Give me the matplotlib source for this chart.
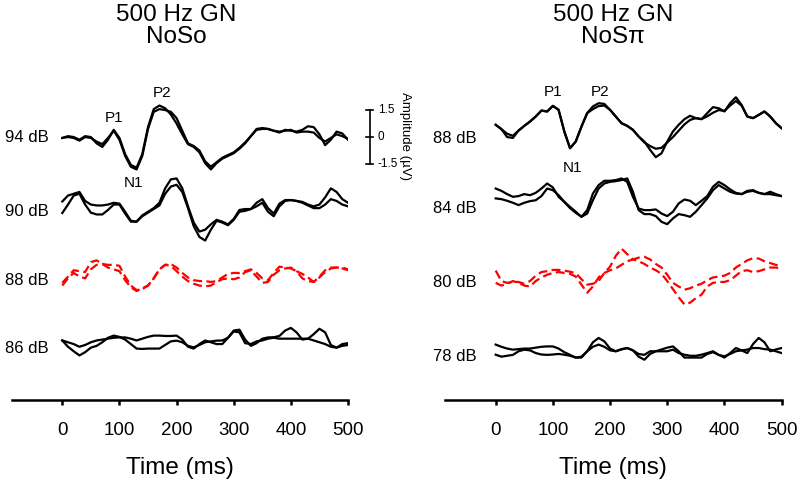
import matplotlib
matplotlib.use("Agg")
import matplotlib.pyplot as plt
import numpy as np

plt.rcParams['font.family'] = ['Liberation Sans', 'DejaVu Sans']

# time axis of the averaged waveforms (ms)
t_ms = np.arange(0, 501, 10)

# NoSo panel, amplitude in uV relative to each trace's baseline
noso_levels = ["94 dB", "90 dB", "88 dB", "86 dB"]
noso_offsets = [0.0, -4.1, -7.9, -11.7]
noso_94_a = [0, 0.1, 0.05, -0.1, 0.1, 0.05, -0.3, -0.5, -0.1, 0.45, 0.0, -0.9, -1.5, -1.65, -0.9, 0.6,
             1.6, 1.8, 1.65, 1.3, 0.8, 0.2, -0.35, -0.5, -0.8, -1.4, -1.75, -1.4, -1.15, -1.0, -0.85,
             -0.6, -0.3, 0.1, 0.5, 0.55, 0.5, 0.4, 0.3, 0.45, 0.4, 0.35, 0.45, 0.65, 0.6, 0.2, -0.4,
             -0.1, 0.35, 0.25, -0.1]
noso_94_b = [0, 0.05, 0.0, -0.15, 0.05, 0.0, -0.2, -0.35, 0.0, 0.4, -0.1, -1.0, -1.6, -1.75, -1.0, 0.5,
             1.45, 1.6, 1.55, 1.45, 1.1, 0.4, -0.3, -0.45, -0.7, -1.3, -1.6, -1.35, -1.1, -0.95, -0.8,
             -0.55, -0.25, 0.1, 0.45, 0.5, 0.5, 0.4, 0.35, 0.4, 0.45, 0.3, 0.35, 0.35, 0.3, 0.0, -0.2,
             0.0, 0.2, 0.1, -0.05]
noso_90_a = [0.57, 0.9, 1.0, 1.1, 0.6, 0.4, 0.35, 0.35, 0.4, 0.5, 0.45, 0.0, -0.5, -0.55, -0.2, 0.0,
             0.2, 0.5, 1.3, 1.8, 1.85, 1.3, 0.3, -0.6, -1.1, -1.0, -0.7, -0.45, -0.55, -0.7, -0.4,
             0.1, 0.15, 0.15, 0.5, 0.7, 0.2, -0.1, 0.45, 0.65, 0.65, 0.6, 0.55, 0.4, 0.3, 0.4, 0.8,
             1.3, 1.1, 0.7, 0.5]
noso_90_b = [-0.07, 0.4, 0.9, 1.0, 0.4, -0.05, -0.15, -0.15, 0.1, 0.4, 0.4, -0.1, -0.55, -0.55, -0.25,
             -0.05, 0.15, 0.35, 1.0, 1.4, 1.5, 1.1, 0.2, -0.8, -1.4, -1.6, -1.0, -0.5, -0.6, -0.75,
             -0.45, 0.0, 0.05, 0.15, 0.3, 0.5, 0.0, -0.25, 0.3, 0.6, 0.65, 0.6, 0.5, 0.35, 0.2, 0.2,
             0.4, 0.7, 0.6, 0.4, 0.3]
noso_88_a = [-0.15, 0.2, 0.55, 0.5, 0.45, 1.0, 1.1, 0.9, 0.85, 0.85, 0.8, 0.2, -0.3, -0.55, -0.5, -0.3,
             0.1, 0.6, 0.85, 0.9, 0.7, 0.4, 0.15, 0.0, -0.05, -0.05, -0.1, -0.05, 0.15, 0.35, 0.4,
             0.4, 0.5, 0.6, 0.4, 0.1, 0.0, 0.4, 0.75, 0.7, 0.65, 0.5, 0.1, -0.05, -0.1, 0.2, 0.55,
             0.7, 0.7, 0.7, 0.6]
noso_88_b = [-0.3, 0.1, 0.4, 0.2, 0.1, 0.6, 0.85, 0.9, 0.7, 0.6, 0.5, 0.0, -0.4, -0.6, -0.45, -0.3,
             0.1, 0.6, 0.85, 0.8, 0.5, 0.2, -0.05, -0.2, -0.3, -0.35, -0.3, -0.1, 0.05, 0.1, 0.05,
             0.15, 0.45, 0.55, 0.2, -0.15, -0.1, 0.3, 0.55, 0.65, 0.7, 0.5, 0.35, 0.15, -0.1, 0.15,
             0.45, 0.65, 0.7, 0.65, 0.55]
noso_86_a = [0.45, 0.1, -0.15, -0.38, -0.2, 0.05, 0.15, 0.35, 0.6, 0.72, 0.65, 0.5, 0.25, 0.0, -0.02,
             0.0, 0.0, 0.0, 0.2, 0.4, 0.44, 0.35, 0.15, 0.07, 0.2, 0.35, 0.4, 0.44, 0.45, 0.6, 1.0,
             1.05, 0.5, 0.15, 0.3, 0.55, 0.62, 0.63, 0.7, 1.0, 1.15, 0.9, 0.5, 0.55, 0.8, 1.1, 0.9,
             0.2, 0.05, 0.25, 0.3]
noso_86_b = [0.45, 0.35, 0.25, 0.1, 0.2, 0.35, 0.45, 0.5, 0.55, 0.6, 0.62, 0.62, 0.55, 0.45, 0.55,
             0.65, 0.72, 0.72, 0.7, 0.7, 0.72, 0.5, 0.1, 0.0, 0.25, 0.45, 0.35, 0.25, 0.25, 0.6,
             0.95, 0.9, 0.3, 0.25, 0.4, 0.45, 0.55, 0.6, 0.55, 0.55, 0.55, 0.55, 0.55, 0.55, 0.45,
             0.35, 0.25, 0.1, 0.05, 0.15, 0.2]

# NoSpi panel
nospi_levels = ["88 dB", "84 dB", "80 dB", "78 dB"]
nospi_offsets = [-0.05, -3.9, -8.05, -12.15]
nospi_88_a = [0.78, 0.54, 0.28, 0.17, 0.46, 0.72, 0.96, 1.24, 1.57, 1.52, 1.83, 1.61, 0.41, -0.52,
              -0.15, 0.68, 1.43, 1.8, 1.98, 1.94, 1.61, 1.24, 0.87, 0.72, 0.5, 0.13, -0.15, -0.61,
              -1.02, -0.8, -0.15, 0.41, 0.78, 1.09, 1.28, 1.15, 1.09, 1.43, 1.76, 1.7, 1.52, 1.98,
              2.31, 1.89, 1.24, 1.15, 1.33, 1.52, 1.24, 0.87, 0.59]
nospi_88_b = [0.78, 0.54, 0.1, 0.05, 0.46, 0.72, 0.96, 1.24, 1.57, 1.52, 1.83, 1.61, 0.41, -0.52,
              -0.15, 0.68, 1.43, 1.65, 1.82, 1.85, 1.61, 1.24, 0.87, 0.72, 0.5, 0.13, -0.2, -0.4,
              -0.55, -0.5, -0.2, 0.1, 0.45, 0.8, 1.05, 1.15, 1.1, 1.25, 1.45, 1.6, 1.55, 1.85, 2.1,
              1.85, 1.24, 1.15, 1.33, 1.52, 1.24, 0.87, 0.59]
nospi_84_a = [1.09, 0.96, 0.78, 0.63, 0.67, 0.78, 0.72, 0.85, 1.09, 1.37, 1.15, 0.63, 0.35, 0.07, -0.2,
              -0.48, -0.11, 0.81, 1.28, 1.52, 1.52, 1.56, 1.65, 1.46, 0.63, -0.02, -0.11, -0.11,
              -0.07, -0.3, -0.44, -0.2, 0.26, 0.48, 0.41, 0.17, 0.41, 0.67, 1.19, 1.46, 1.28, 1.04,
              0.85, 0.78, 0.96, 1.0, 0.85, 0.78, 0.91, 0.78, 0.67]
nospi_84_b = [0.54, 0.5, 0.41, 0.3, 0.17, 0.3, 0.39, 0.44, 0.67, 1.09, 1.0, 0.72, 0.35, 0.0, -0.26,
              -0.48, -0.3, 0.44, 1.09, 1.37, 1.46, 1.5, 1.56, 1.65, 0.91, -0.11, -0.33, -0.33, -0.44,
              -0.76, -0.89, -0.57, -0.33, -0.39, -0.48, -0.2, 0.17, 0.54, 1.0, 1.28, 1.09, 0.91, 0.81,
              0.78, 0.91, 0.96, 0.85, 0.78, 0.78, 0.72, 0.67]
nospi_80_a = [0.68, 0.1, 0.0, 0.05, 0.05, -0.05, 0.1, 0.4, 0.6, 0.65, 0.72, 0.72, 0.68, 0.62, 0.54,
              0.2, -0.1, -0.05, 0.1, 0.55, 0.9, 1.5, 1.9, 1.6, 1.3, 1.4, 1.45, 1.3, 1.05, 0.85, 0.45,
              0.0, -0.2, -0.38, -0.3, -0.15, -0.05, 0.15, 0.3, 0.35, 0.4, 0.55, 0.85, 1.05, 1.25, 1.37,
              1.35, 1.2, 1.1, 1.0, 0.95]
nospi_80_b = [0.0, -0.15, -0.05, 0.1, 0.0, -0.15, -0.2, 0.1, 0.3, 0.45, 0.55, 0.6, 0.55, 0.5, 0.35,
              -0.1, -0.55, -0.2, 0.3, 0.55, 0.7, 0.8, 1.0, 1.2, 1.3, 1.2, 1.05, 0.85, 0.7, 0.5, 0.1,
              -0.35, -0.8, -1.2, -1.1, -0.85, -0.65, -0.2, 0.0, 0.05, 0.05, 0.15, 0.4, 0.65, 0.7, 0.6,
              0.65, 0.75, 0.85, 0.85, 0.8]
nospi_78_a = [0.67, 0.55, 0.45, 0.39, 0.42, 0.45, 0.45, 0.5, 0.55, 0.57, 0.57, 0.45, 0.25, 0.1, -0.05,
              -0.05, 0.3, 0.8, 1.04, 0.85, 0.45, 0.3, 0.4, 0.48, 0.35, 0.0, -0.17, 0.15, 0.3, 0.4, 0.5,
              0.57, 0.3, -0.05, -0.05, -0.05, -0.05, 0.15, 0.25, 0.1, -0.05, 0.2, 0.48, 0.35, 0.2, 0.7,
              1.04, 0.8, 0.3, 0.4, 0.48]
nospi_78_b = [0.11, 0.0, 0.05, 0.1, 0.3, 0.39, 0.35, 0.2, 0.12, 0.1, 0.12, 0.15, 0.11, 0.05, -0.05,
              0.0, 0.3, 0.55, 0.67, 0.55, 0.35, 0.3, 0.42, 0.48, 0.35, 0.15, 0.1, 0.3, 0.3, 0.3, 0.3,
              0.39, 0.2, 0.11, 0.05, 0.05, 0.11, 0.2, 0.3, 0.1, 0.02, 0.15, 0.3, 0.35, 0.39, 0.48,
              0.48, 0.42, 0.39, 0.3, 0.2]

noso_traces = [(noso_94_a, noso_94_b), (noso_90_a, noso_90_b),
               (noso_88_a, noso_88_b), (noso_86_a, noso_86_b)]
nospi_traces = [(nospi_88_a, nospi_88_b), (nospi_84_a, nospi_84_b),
                (nospi_80_a, nospi_80_b), (nospi_78_a, nospi_78_b)]
red_row = 2  # the dashed red row in each panel

fig = plt.figure(figsize=(8, 4.82), dpi=100)
ax1 = fig.add_axes([0.015, 0.170, 0.42, 0.685])
ax2 = fig.add_axes([0.556, 0.170, 0.421, 0.685])


def draw_panel(ax, traces, offsets, levels, xleft, label_x):
    for i, (a, b) in enumerate(traces):
        if i == red_row:
            style = dict(color='red', lw=1.6, ls=(0, (4, 2)))
        else:
            style = dict(color='black', lw=1.6)
        ax.plot(t_ms, np.array(a) + offsets[i], **style)
        ax.plot(t_ms, np.array(b) + offsets[i], **style)
        ax.text(label_x, offsets[i], levels[i], ha='right', va='center', fontsize=12)
    ax.set_xlim(xleft, 500)
    ax.set_ylim(-14.56, 3.78)
    for s in ['top', 'left', 'right']:
        ax.spines[s].set_visible(False)
    ax.spines['bottom'].set_linewidth(1.8)
    ax.set_yticks([])
    ax.set_xticks([0, 100, 200, 300, 400, 500])
    ax.tick_params(axis='x', length=3.5, width=1.8, pad=12, labelsize=13.5)
    ax.set_xlabel("Time (ms)", fontsize=17.5, labelpad=13)


draw_panel(ax1, noso_traces, noso_offsets, noso_levels, -88, -24)
draw_panel(ax2, nospi_traces, nospi_offsets, nospi_levels, -89, -33)

# peak labels
ax1.text(90, 1.1, "P1", ha='center', va='center', fontsize=11)
ax1.text(175, 2.5, "P2", ha='center', va='center', fontsize=11)
ax1.text(125, -2.5, "N1", ha='center', va='center', fontsize=11)
ax2.text(100, 2.55, "P1", ha='center', va='center', fontsize=11)
ax2.text(182, 2.55, "P2", ha='center', va='center', fontsize=11)
ax2.text(135, -1.65, "N1", ha='center', va='center', fontsize=11)

# amplitude scale bar
bar_x = 538
ax1.plot([bar_x, bar_x], [-1.45, 1.55], color='black', lw=1.2, clip_on=False)
for v, lab in [(1.55, "1.5"), (0.05, "0"), (-1.45, "-1.5")]:
    ax1.plot([bar_x - 6, bar_x + 6], [v, v], color='black', lw=1.2, clip_on=False)
    ax1.text(bar_x + 14, v, lab, ha='left', va='center', fontsize=8.5, clip_on=False)
ax1.text(600, 0.1, "Amplitude (\u00b5V)", rotation=270, ha='center', va='center',
         fontsize=9.5, clip_on=False)

# titles
for cx, sub in [(176, "NoSo"), (613, "NoS\u03c0")]:
    fig.text(cx / 800, 1 - 21 / 482, "500 Hz GN", ha='center', va='baseline', fontsize=17.5)
    fig.text(cx / 800, 1 - 43 / 482, sub, ha='center', va='baseline', fontsize=17.5)

fig.savefig("out.png", dpi=100)
